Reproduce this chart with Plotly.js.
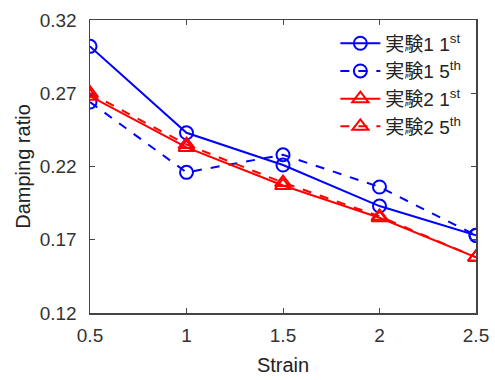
<!DOCTYPE html>
<html>
<head>
<meta charset="utf-8">
<script src="https://cdn.plot.ly/plotly-3.0.1.min.js"></script>
<style>html,body{margin:0;padding:0;background:#fff;}#chart{width:495px;height:380px;}</style>
</head>
<body>
<div id="chart"></div>
<script>
const strain = [0.5, 1, 1.5, 2, 2.5];
const exp1_1st = [0.302, 0.243, 0.221, 0.193, 0.173];
const exp1_5th = [0.264, 0.216, 0.228, 0.206, 0.173];
const exp2_1st = [0.268, 0.233, 0.207, 0.185, 0.158];
const exp2_5th = [0.270, 0.235, 0.209, 0.186, 0.158];
const seriesNames = ['実験1 1<sup>st</sup>', '実験1 5<sup>th</sup>', '実験2 1<sup>st</sup>', '実験2 5<sup>th</sup>'];
const xTicks = [0.5, 1, 1.5, 2, 2.5];
const xTickText = ['0.5', '1', '1.5', '2', '2.5'];
const yTicks = [0.12, 0.17, 0.22, 0.27, 0.32];
const yTickText = ['0.12', '0.17', '0.22', '0.27', '0.32'];

const blue = '#0000ff', red = '#ff0000';
const font = 'Liberation Sans, Arial, Noto Sans CJK JP, sans-serif';

function tr(y, name, color, dash, symbol, size) {
  return {
    x: strain, y: y, name: name, type: 'scatter', mode: 'lines+markers',
    line: {color: color, width: 2, dash: dash},
    marker: {symbol: symbol, size: size, color: color, line: {color: color, width: 2}}
  };
}

const data = [
  tr(exp1_1st, seriesNames[0], blue, 'solid', 'circle-open', 13),
  tr(exp1_5th, seriesNames[1], blue, 'dash', 'circle-open', 13),
  tr(exp2_1st, seriesNames[2], red, 'solid', 'triangle-up-open', 14),
  tr(exp2_5th, seriesNames[3], red, 'dash', 'triangle-up-open', 14)
];

const axisCommon = {
  showgrid: false, zeroline: false, showline: true, mirror: 'ticks',
  linecolor: '#444', linewidth: 1.5, ticks: 'inside', ticklen: 5, tickcolor: '#444',
  tickfont: {family: font, size: 19, color: '#333'}
};

const layout = {
  width: 495, height: 380,
  margin: {l: 90, r: 19, t: 20, b: 67},
  paper_bgcolor: '#fff', plot_bgcolor: '#fff',
  font: {family: font, color: '#222'},
  showlegend: true,
  legend: {
    x: 0.975, y: 0.985, xanchor: 'right', yanchor: 'top',
    bgcolor: 'rgba(255,255,255,0)', borderwidth: 0,
    font: {family: font, size: 19, color: '#222'},
    tracegroupgap: 0, itemwidth: 40
  },
  xaxis: Object.assign({}, axisCommon, {
    range: [0.5, 2.5], tickvals: xTicks, ticktext: xTickText, ticklabelstandoff: 5,
    title: {text: 'Strain', font: {family: font, size: 20, color: '#222'}, standoff: 12}
  }),
  yaxis: Object.assign({}, axisCommon, {
    range: [0.12, 0.32], tickvals: yTicks, ticktext: yTickText, ticklabelstandoff: 8,
    title: {text: 'Damping ratio', font: {family: font, size: 20, color: '#222'}, standoff: 3}
  })
};

Plotly.newPlot('chart', data, layout, {displayModeBar: false, staticPlot: true});
</script>
</body>
</html>
